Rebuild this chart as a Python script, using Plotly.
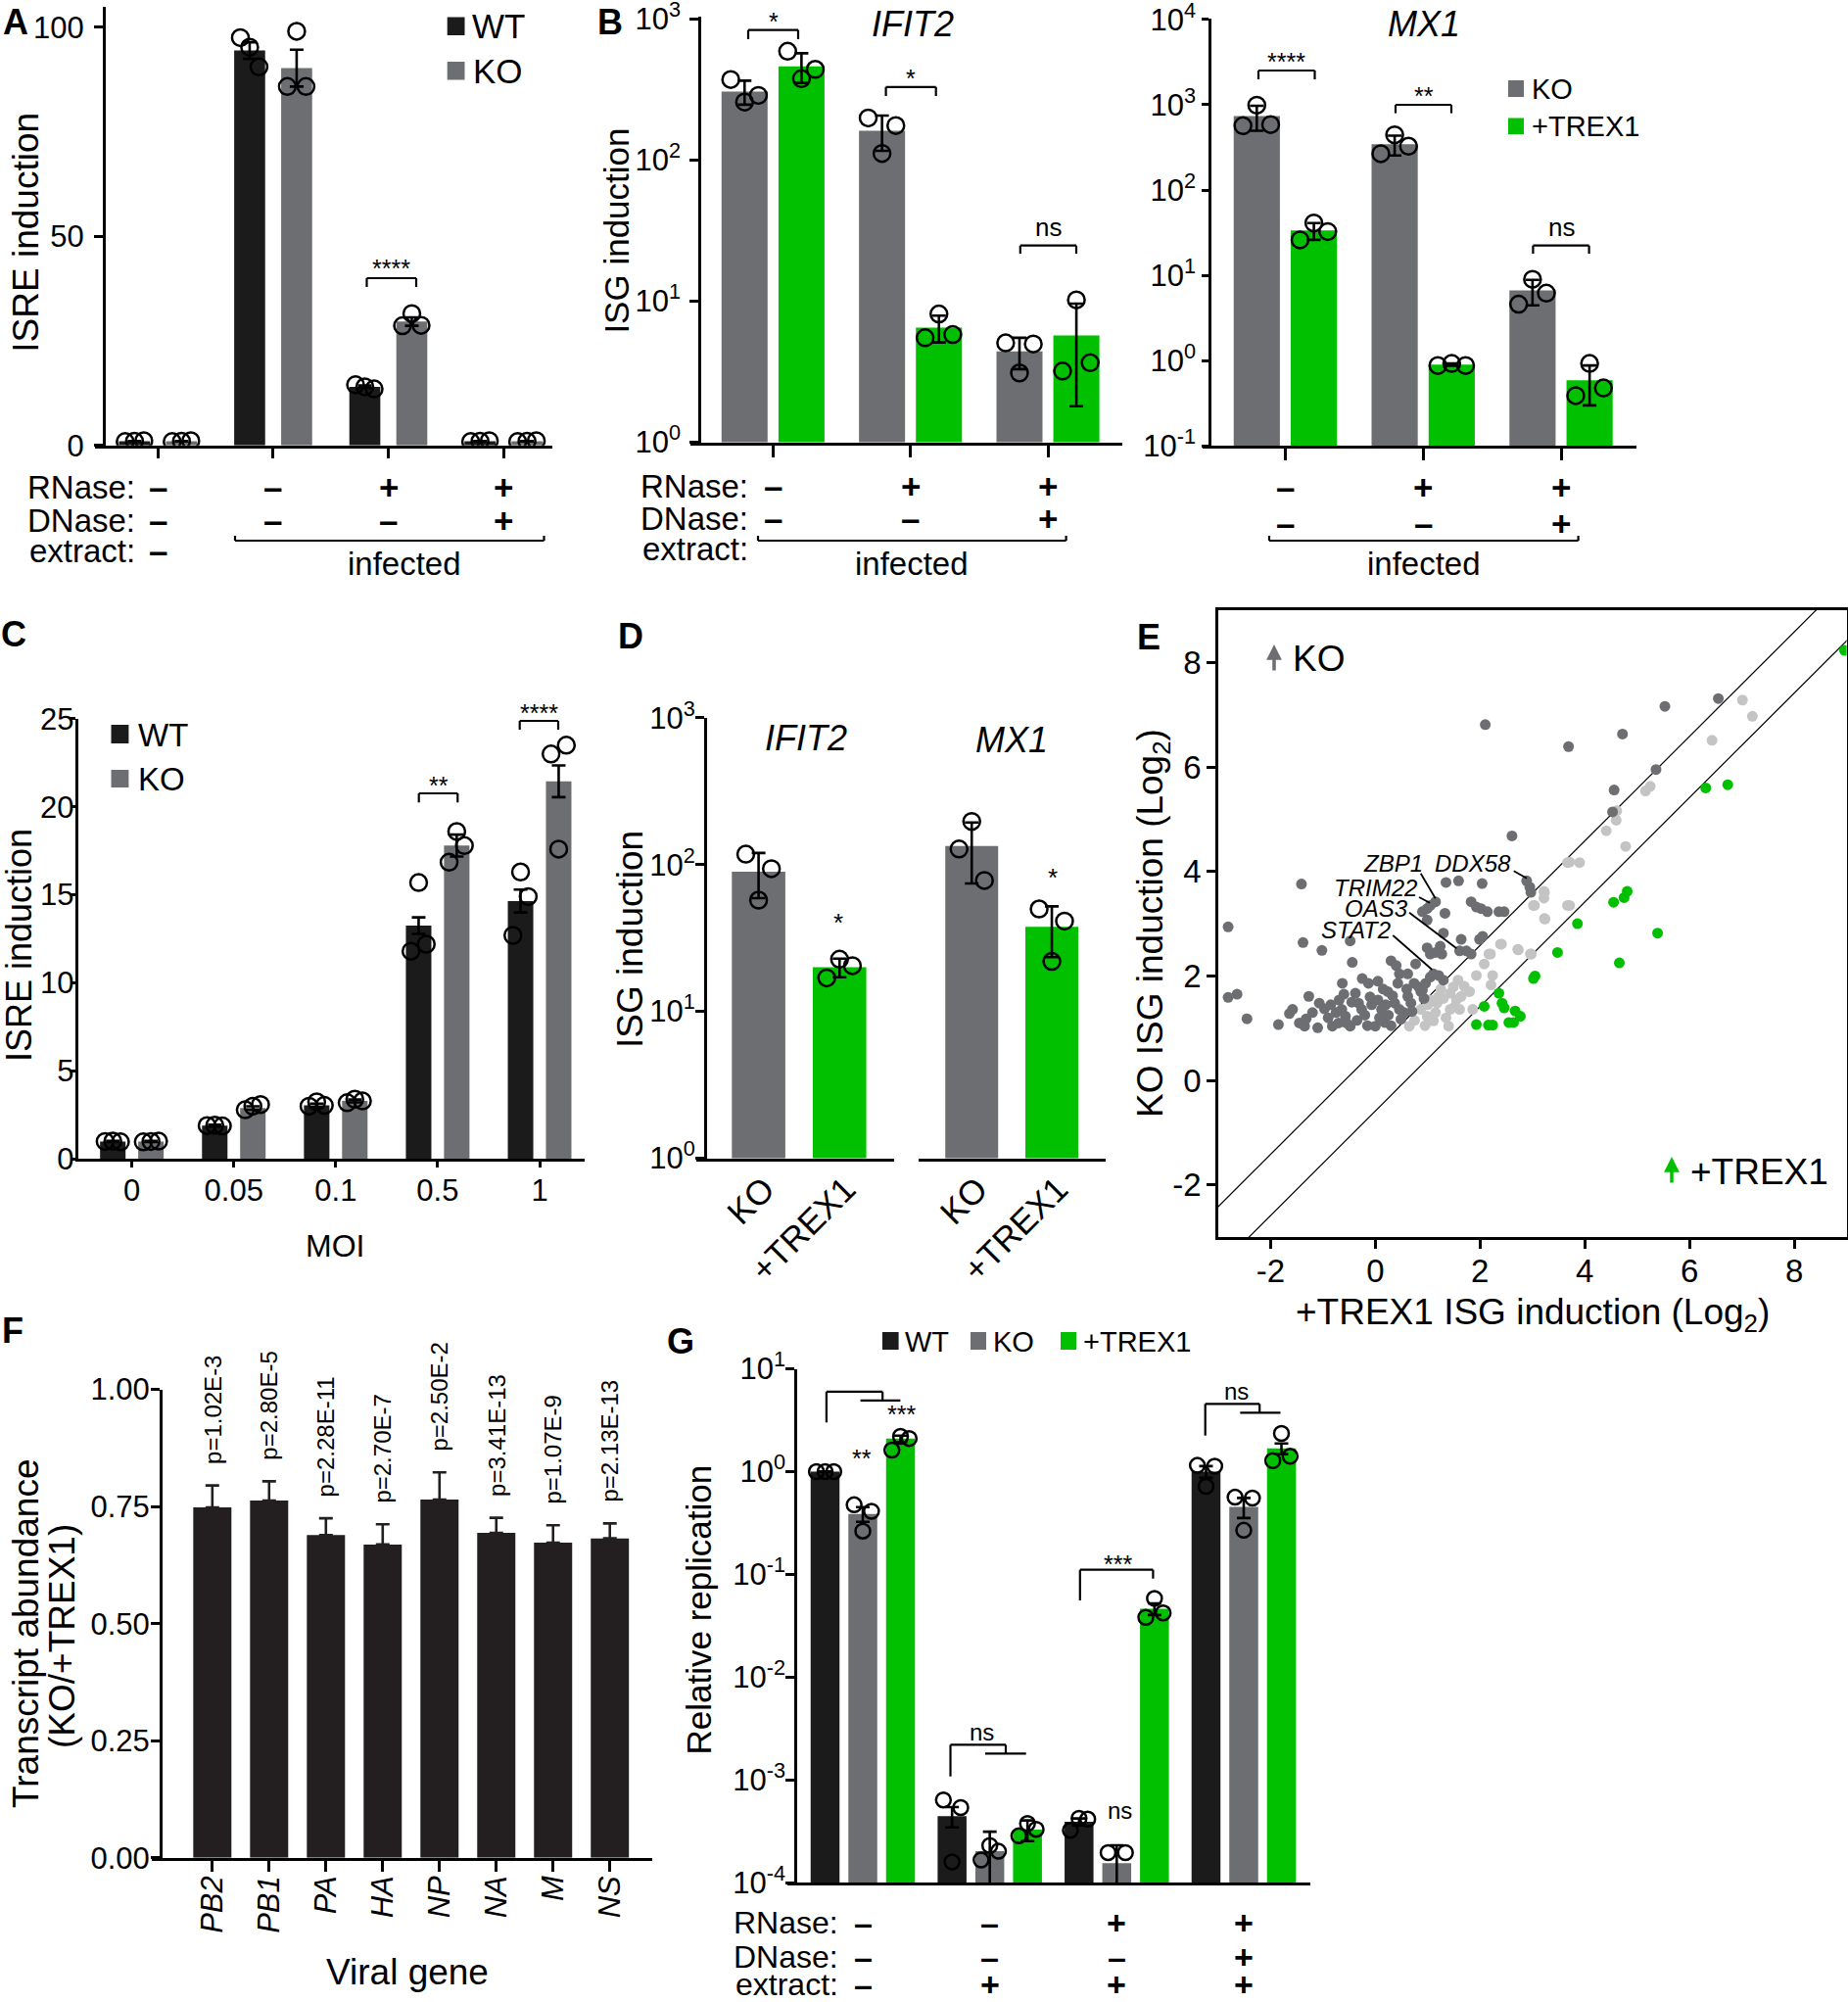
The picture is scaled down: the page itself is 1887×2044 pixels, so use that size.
import numpy as np
import plotly.graph_objects as go

W, H = 1887, 2044
FONT = "Liberation Sans, Arial, sans-serif"
BLK = "#1b1b1b"
GRY = "#6d6e71"
GRN = "#00c000"
LGR = "#c4c4c4"

# ---------------- data ----------------
# Panel A : ISRE induction (WT vs KO)
A_wt_mean = [1.0, 94.4, 14.0, 1.0]
A_ko_mean = [1.0, 90.2, 29.6, 1.0]
A_wt_err = [0.05, 2.0, 0.3, 0.05]
A_ko_err = [0.05, 4.4, 1.0, 0.05]
A_wt_pts = [[0.9, 1.0, 1.1], [97.5, 95.2, 90.5], [14.5, 14.0, 13.5], [0.9, 1.0, 1.1]]
A_ko_pts = [[0.9, 1.0, 1.1], [85.8, 99.0, 85.8], [28.6, 31.5, 28.7], [0.9, 1.0, 1.1]]
A_rnase = ["–", "–", "+", "+"]
A_dnase = ["–", "–", "–", "+"]

# Panel B : IFIT2 (KO vs +TREX1)
B_ko_mean = [305, 161, 4.4]
B_tx_mean = [460, 6.5, 5.7]
B_ko_err = [59, 45, 1.1]
B_tx_err = [109, 1.4, 3.9]
B_ko_pts = [[371, 257, 286], [198, 111, 175], [5.06, 3.1, 4.97]]
B_tx_pts = [[588, 376, 438], [5.5, 8.1, 5.8], [3.2, 10.2, 3.66]]
B_rnase = ["–", "+", "+"]
B_dnase = ["–", "–", "+"]
B_sig = ["*", "*", "ns"]

# Panel B : MX1
M_ko_mean = [735, 344, 6.66]
M_tx_mean = [33.6, 0.90, 0.59]
M_ko_err = [238, 90, 2.2]
M_tx_err = [7.5, 0.03, 0.29]
M_ko_pts = [[568, 989, 586], [267, 444, 327], [4.6, 9.0, 6.2]]
M_tx_pts = [[26.1, 41.1, 32.6], [0.88, 0.93, 0.88], [0.39, 0.93, 0.48]]
M_sig = ["****", "**", "ns"]

# Panel C : ISRE induction vs MOI
C_moi = ["0", "0.05", "0.1", "0.5", "1"]
C_wt_mean = [1.0, 1.9, 3.05, 13.25, 14.65]
C_ko_mean = [1.0, 2.9, 3.3, 17.8, 21.45]
C_wt_err = [0.03, 0.05, 0.1, 0.47, 0.65]
C_ko_err = [0.03, 0.1, 0.08, 0.62, 0.9]
C_wt_pts = [[1.0, 1.02, 0.98], [1.9, 1.92, 1.88], [3.0, 3.25, 3.05], [11.8, 15.7, 12.2], [12.7, 16.3, 14.9]]
C_ko_pts = [[0.98, 1.0, 1.02], [2.8, 3.0, 3.1], [3.2, 3.4, 3.3], [16.85, 18.6, 17.8], [23.0, 17.6, 23.5]]

# Panel D : ISG induction
D_genes = ["IFIT2", "MX1"]
D_lines = ["KO", "+TREX1"]
D_ko_mean = [89.6, 134]
D_tx_mean = [20.0, 37.7]
D_ko_err = [30.5, 59.6]
D_tx_err = [2.9, 14.3]
D_ko_pts = [[117.8, 57.3, 93.8], [127.7, 196.9, 78.0]]
D_tx_pts = [[16.9, 22.7, 20.5], [49.9, 21.9, 41.2]]

# Panel E : scatter of log2 ISG induction (x: +TREX1, y: KO)
E_ko_x = [-2.81, -2.81, -2.64, -2.45, -1.85, -1.64, -1.58, -1.41, -1.38, -1.32, -1.27, -1.35, -1.10, -1.02,
          -1.07, -0.97, -0.82, -0.69, -0.63, -0.64, -0.57, -0.48, -0.44, -0.48, -0.38, -0.32, -0.26, -0.13,
          -0.07, 0.00, 0.05, 0.12, 0.18, 0.24, 0.30, 0.40, 0.46, 0.43, 0.37, 0.46, 0.49, 0.62, 0.62, 0.68,
          0.77, 0.74, 0.83, 0.90, 0.96, 1.05, 1.11, 1.21, 1.30, 0.99, 1.05, 1.15, 1.27, 1.24, 1.30, 1.64,
          1.61, 1.74, 1.83, 1.99, 2.05, 0.90, 0.99, 1.05, 1.15, 0.99, 1.33, 1.35, 1.59, 2.04, 1.83, 1.93,
          2.02, 2.14, 2.36, 2.46, 2.89, 2.95, 2.97, 2.61, 0.87, 0.93, 2.10, 3.69, 4.72, 5.53, 6.55, 5.36,
          4.56, 4.53, -0.90, -0.75, -0.55, -0.35, -0.20, -0.10, 0.08, 0.20, 0.30, 0.55, -0.60, -0.85,
          0.15, -0.45, 0.33, -1.20, 0.70, -0.15, 0.60, -0.25, 0.05, -1.45, 0.25, -0.70]
E_ko_y = [2.94, 1.59, 1.65, 1.18, 1.07, 1.28, 1.36, 3.76, 2.64, 1.18, 1.61, 1.04, 1.01, 2.49,
          1.48, 1.37, 1.04, 1.54, 1.86, 1.36, 1.23, 2.67, 2.26, 1.04, 1.67, 1.48, 1.36, 1.86,
          1.45, 1.04, 1.54, 1.36, 1.11, 1.70, 2.29, 2.20, 2.04, 1.86, 1.48, 1.36, 1.17, 2.04, 1.61, 1.48,
          2.23, 1.86, 1.79, 1.73, 1.86, 1.98, 2.04, 2.01, 1.92, 2.54, 2.42, 2.45, 2.42, 2.57, 2.82, 2.70,
          2.48, 2.48, 2.42, 2.70, 2.76, 3.23, 3.29, 3.35, 3.42, 3.07, 3.20, 3.79, 3.82, 3.77, 3.42, 3.32,
          3.29, 3.23, 3.23, 3.23, 3.82, 3.70, 3.60, 4.68, 1.70, 1.57, 6.81, 6.39, 6.63, 7.16, 7.31, 5.95,
          5.56, 5.14, 1.20, 1.30, 1.10, 1.15, 1.25, 1.60, 1.20, 1.45, 1.05, 1.30, 1.65, 1.45,
          1.75, 1.50, 1.62, 1.30, 1.32, 1.05, 1.75, 1.95, 1.90, 1.10, 1.25, 1.10]
E_ns_x = [0.65, 0.87, 0.99, 1.11, 1.05, 1.18, 1.30, 1.43, 1.49, 1.58, 1.43, 1.52, 1.61, 1.40, 1.64,
          1.86, 1.93, 2.08, 2.17, 2.24, 2.21, 2.39, 2.72, 2.98, 3.02, 3.23, 3.23, 3.67, 3.67, 7.01,
          7.20, 6.43, 5.16, 5.25, 4.61, 4.60, 4.41, 4.78, 3.71, 3.90, 3.22, 3.22, 3.04, 3.71, 3.24,
          2.41, 2.73, 2.20, 2.96, 1.25, 1.70, 1.35, 0.95, 1.55, 1.80, 1.15, 0.75, 1.00, 1.20]
E_ns_y = [1.04, 1.36, 1.23, 1.14, 1.54, 1.48, 1.57, 1.67, 1.79, 1.92, 1.36, 1.42, 1.36, 1.04, 1.61,
          1.36, 2.01, 2.23, 2.42, 2.01, 1.83, 2.61, 2.51, 2.42, 3.35, 3.60, 3.10, 4.17, 3.35, 7.28,
          6.97, 6.51, 5.54, 5.63, 5.16, 4.98, 4.78, 4.48, 4.18, 4.17, 3.62, 3.49, 3.35, 3.35, 3.09,
          2.61, 2.50, 2.42, 2.42, 1.75, 1.80, 1.20, 1.05, 1.55, 1.70, 1.30, 1.15, 1.45, 1.60]
E_tx_x = [3.48, 3.02, 3.05, 2.36, 2.08, 2.42, 2.46, 2.67, 2.77, 1.93, 2.16, 2.24, 2.55, 2.64,
          6.31, 6.73, 8.96, 4.81, 4.75, 4.55, 3.86, 5.39, 4.66]
E_tx_y = [2.45, 1.95, 2.00, 1.67, 1.42, 1.48, 1.39, 1.33, 1.23, 1.07, 1.06, 1.06, 1.11, 1.11,
          5.60, 5.66, 8.23, 3.62, 3.50, 3.41, 3.00, 2.82, 2.25]
E_labels = ["ZBP1", "DDX58", "TRIM22", "OAS3", "STAT2"]
E_ticks = [-2, 0, 2, 4, 6, 8]

# Panel F : viral transcript abundance
F_genes = ["PB2", "PB1", "PA", "HA", "NP", "NA", "M", "NS"]
F_ratio = [0.748, 0.763, 0.689, 0.669, 0.765, 0.694, 0.673, 0.682]
F_err = [0.047, 0.041, 0.036, 0.043, 0.058, 0.032, 0.037, 0.032]
F_p = ["p=1.02E-3", "p=2.80E-5", "p=2.28E-11", "p=2.70E-7", "p=2.50E-2", "p=3.41E-13", "p=1.07E-9", "p=2.13E-13"]

# Panel G : relative replication
G_wt_mean = [1.0, 4.47e-4, 3.93e-4, 1.0]
G_ko_mean = [0.388, 2.03e-4, 1.56e-4, 0.454]
G_tx_mean = [2.09, 3.3e-4, 0.0463, 1.68]
G_wt_err = [0.005, 1.0e-4, 0.3e-4, 0.13]
G_ko_err = [0.063, 1.12e-4, 0.76e-4, 0.10]
G_tx_err = [0.15, 0.75e-4, 0.006, 0.20]
G_wt_pts = [[1.0, 1.0, 1.0], [6.4e-4, 1.6e-4, 5.4e-4], [3.24e-4, 4.25e-4, 4.17e-4], [1.15, 0.72, 1.13]]
G_ko_pts = [[0.476, 0.264, 0.411], [1.67e-4, 2.31e-4, 2.03e-4], [1.97e-4, 0.74e-4, 1.97e-4], [0.564, 0.269, 0.553]]
G_tx_pts = [[1.62, 2.2, 2.1], [2.87e-4, 3.78e-4, 3.32e-4], [0.0383, 0.0585, 0.0422], [1.28, 2.35, 1.41]]
G_rnase = ["–", "–", "+", "+"]
G_dnase = ["–", "–", "–", "+"]
G_extract = ["–", "+", "+", "+"]

# ---------------- helpers ----------------
fig = go.Figure()
ann, shp, lay = [], [], {}


def fx(x):
    return x / W


def fy(y):
    return 1 - y / H


def T(x, y, s, size, xa="center", ya="middle", angle=0, bold=False, italic=False, color="black"):
    if bold:
        s = "<b>" + s + "</b>"
    if italic:
        s = "<i>" + s + "</i>"
    ann.append(dict(x=fx(x), y=fy(y), xref="paper", yref="paper", text=s, showarrow=False,
                    xanchor=xa, yanchor=ya, textangle=angle,
                    font=dict(family=FONT, size=size, color=color)))


def TA(xref, x, y, s, size, bold=True):
    if bold:
        s = "<b>" + s + "</b>"
    ann.append(dict(x=x, y=fy(y), xref=xref, yref="paper", text=s, showarrow=False,
                    xanchor="center", yanchor="middle", font=dict(family=FONT, size=size, color="black")))


def L(x0, y0, x1, y1, w=2.2, color="black"):
    shp.append(dict(type="line", xref="paper", yref="paper", x0=fx(x0), y0=fy(y0), x1=fx(x1), y1=fy(y1),
                    line=dict(color=color, width=w)))


def R(x0, y0, x1, y1, color):
    shp.append(dict(type="rect", xref="paper", yref="paper", x0=fx(x0), y0=fy(y0), x1=fx(x1), y1=fy(y1),
                    line=dict(width=0), fillcolor=color))


def bracket(x0, x1, y, yleg, w=2.2):
    L(x0, yleg, x0, y, w)
    L(x0, y, x1, y, w)
    L(x1, y, x1, yleg, w)


def base_axis(**kw):
    d = dict(showline=True, linecolor="black", linewidth=3, ticks="outside", ticklen=9, tickwidth=3,
             tickcolor="black", showgrid=False, zeroline=False, ticklabelstandoff=0, ticklabeloverflow="allow",
             tickfont=dict(family=FONT, size=31, color="black"))
    d.update(kw)
    return d


def set_x(n, x0, x1, rng, anchor, **kw):
    lay["xaxis" + ("" if n == 1 else str(n))] = base_axis(domain=[fx(x0), fx(x1)], range=rng, anchor=anchor, **kw)


def set_y(n, ytop, ybot, rng, anchor, **kw):
    lay["yaxis" + ("" if n == 1 else str(n))] = base_axis(domain=[fy(ybot), fy(ytop)], range=rng, anchor=anchor, **kw)


def add_bars(xa, ya, pos, vals, err, color, width):
    fig.add_trace(go.Bar(x=pos, y=vals, width=width, marker=dict(color=color, line=dict(width=0)),
                         error_y=dict(type="data", array=err, visible=True, color="black", thickness=2.6, width=7),
                         xaxis=xa, yaxis=ya, showlegend=False, hoverinfo="skip"))


JIT = [-0.3, 0.0, 0.3]


def add_dots(xa, ya, pos, pts, bw, size=17, lw=2.5):
    xs, ys = [], []
    for p, vals in zip(pos, pts):
        for j, v in zip(JIT, vals):
            xs.append(p + j * bw)
            ys.append(v)
    fig.add_trace(go.Scatter(x=xs, y=ys, mode="markers",
                             marker=dict(symbol="circle-open", size=size, color="black", line=dict(width=lw)),
                             xaxis=xa, yaxis=ya, showlegend=False, hoverinfo="skip"))


def sup(e):
    return "10<sup>%d</sup>" % e


def letter(x, s):
    ann.append(dict(x=fx(x), y=1.0, xref="paper", yref="paper", text="<b>" + s + "</b>", showarrow=False,
                    xanchor="center", yanchor="top", font=dict(family=FONT, size=36, color="black")))


# ---------------- Panel A ----------------
nA = len(A_wt_mean)
offA, bwA = 0.204, 0.269
gA = list(range(nA))
set_x(1, 97, 563.5, [-0.547, 3.42], "y", tickvals=gA, showticklabels=False, ticklen=10)
set_y(1, 7, 454.7, [0, 104.85], "free", position=fx(106), tickvals=[0, 50, 100], ticklen=9, ticklabelstandoff=4)
add_bars("x", "y", [g - offA for g in gA], A_wt_mean, A_wt_err, BLK, bwA)
add_bars("x", "y", [g + offA for g in gA], A_ko_mean, A_ko_err, GRY, bwA)
add_dots("x", "y", [g - offA for g in gA], A_wt_pts, bwA)
add_dots("x", "y", [g + offA for g in gA], A_ko_pts, bwA)
letter(16, "A")
T(25.7, 237, "ISRE induction", 37, angle=-90)
R(456.7, 17.5, 474.5, 36, BLK)
T(480, 27, "WT", 35, xa="left")
R(456.7, 63, 474.5, 81.5, GRY)
T(481, 73, "KO", 35, xa="left")
bracket(374.5, 425, 284, 293)
T(399.4, 274, "****", 25)
T(140, 497.5, "RNase:", 33, xa="right")
T(140, 532, "DNase:", 33, xa="right")
T(140, 562.6, "extract:", 33, xa="right")
for g in gA:
    TA("x", g, 497.5, A_rnase[g], 35)
    TA("x", g, 532, A_dnase[g], 35)
TA("x", 0, 562.6, "–", 35)
L(240, 547, 240, 552)
L(240, 552, 555.5, 552)
L(555.5, 552, 555.5, 547)
T(413, 575, "infected", 33)

# ---------------- Panel B (IFIT2) ----------------
nB = len(B_ko_mean)
gB = list(range(nB))
offB, bwB = 0.207, 0.335
set_x(2, 705.4, 1146.4, [-0.598, 2.544], "y2", tickvals=gB, showticklabels=False, ticklen=12)
set_y(2, 17.2, 451.6, [0, 3.013], "free", type="log", position=fx(714.3),
      tickvals=[1, 10, 100, 1000], ticktext=[sup(e) for e in range(4)], ticklen=9, ticklabelstandoff=3)
add_bars("x2", "y2", [g - offB for g in gB], B_ko_mean, B_ko_err, GRY, bwB)
add_bars("x2", "y2", [g + offB for g in gB], B_tx_mean, B_tx_err, GRN, bwB)
add_dots("x2", "y2", [g - offB for g in gB], B_ko_pts, bwB)
add_dots("x2", "y2", [g + offB for g in gB], B_tx_pts, bwB)
letter(623, "B")
T(628.6, 236, "ISG induction", 35, angle=-90)
T(932, 25, "IFIT2", 36, italic=True)
bracket(764, 815, 30.6, 40)
T(789.5, 22, B_sig[0], 25)
bracket(904.6, 955.7, 88.8, 98)
T(930, 80, B_sig[1], 25)
bracket(1041.8, 1099, 250.7, 259)
T(1070.4, 232, B_sig[2], 26)
T(766, 496, "RNase:", 33, xa="right")
T(766, 530, "DNase:", 33, xa="right")
T(766, 561, "extract:", 33, xa="right")
for g in gB:
    TA("x2", g, 496, B_rnase[g], 35)
    TA("x2", g, 530, B_dnase[g], 35)
L(774, 547, 774, 552)
L(774, 552, 1088.6, 552)
L(1088.6, 552, 1088.6, 547)
T(931.4, 575, "infected", 33)

# ---------------- Panel B (MX1) ----------------
set_x(3, 1228, 1671, [-0.600, 2.547], "y3", tickvals=gB, showticklabels=False, ticklen=12)
set_y(3, 19.0, 455.4, [-1, 4.01], "free", type="log", position=fx(1235.3),
      tickvals=[0.1, 1, 10, 100, 1000, 10000], ticktext=[sup(e) for e in range(-1, 5)], ticklen=7,
      ticklabelstandoff=0)
add_bars("x3", "y3", [g - offB for g in gB], M_ko_mean, M_ko_err, GRY, bwB)
add_bars("x3", "y3", [g + offB for g in gB], M_tx_mean, M_tx_err, GRN, bwB)
add_dots("x3", "y3", [g - offB for g in gB], M_ko_pts, bwB)
add_dots("x3", "y3", [g + offB for g in gB], M_tx_pts, bwB)
T(1454.4, 25, "MX1", 36, italic=True)
bracket(1285, 1342.5, 72, 81)
T(1313.7, 63, M_sig[0], 25)
bracket(1425, 1482, 107, 115.6)
T(1453.5, 98, M_sig[1], 25)
bracket(1565.4, 1622.6, 250.7, 259)
T(1594, 232, M_sig[2], 26)
R(1540, 82, 1556, 99, GRY)
T(1561.6, 91, "KO", 29, xa="left")
R(1540, 120.5, 1556, 137, GRN)
T(1561.6, 129, "+TREX1", 29, xa="left")
for g in gB:
    TA("x3", g, 497.5, B_rnase[g], 35)
    TA("x3", g, 534, B_dnase[g], 35)
L(1296, 547, 1296, 552)
L(1296, 552, 1611.6, 552)
L(1611.6, 552, 1611.6, 547)
T(1453.5, 575, "infected", 33)

# ---------------- Panel C ----------------
nC = len(C_moi)
gC = list(range(nC))
offC, bwC = 0.187, 0.25
set_x(4, 79.6, 596.7, [-0.529, 4.439], "y4", tickvals=gC, ticktext=C_moi, ticklen=6, ticklabelstandoff=-4)
set_y(4, 733.8, 1183.4, [0, 25], "x4", tickvals=[0, 5, 10, 15, 20, 25], ticklen=5, ticklabelstandoff=-10)
add_bars("x4", "y4", [g - offC for g in gC], C_wt_mean, C_wt_err, BLK, bwC)
add_bars("x4", "y4", [g + offC for g in gC], C_ko_mean, C_ko_err, GRY, bwC)
add_dots("x4", "y4", [g - offC for g in gC], C_wt_pts, bwC)
add_dots("x4", "y4", [g + offC for g in gC], C_ko_pts, bwC)
T(14, 647, "C", 36, bold=True)
T(19, 965, "ISRE induction", 36, angle=-90)
T(342, 1272, "MOI", 32)
R(113.5, 740, 131.4, 759, BLK)
T(139, 750, "WT", 33, xa="left")
R(113.5, 786, 131.4, 804, GRY)
T(139, 795, "KO", 33, xa="left")
bracket(427.7, 467.3, 810, 819.3)
T(447.5, 802, "**", 25)
bracket(530.7, 570, 736, 745)
T(550.4, 728, "****", 25)

# ---------------- Panel D ----------------
bwD = 0.66
set_x(5, 711, 912.7, [-0.769, 1.67], "y5", tickvals=[0, 1], ticktext=D_lines, ticks="", tickangle=-45,
      ticklabelstandoff=-6, ticklabelshift=6, tickfont=dict(family=FONT, size=35, color="black"))
set_x(6, 937.5, 1129, [-0.669, 1.672], "y5", tickvals=[0, 1], ticktext=D_lines, ticks="", tickangle=-45,
      ticklabelstandoff=-6, ticklabelshift=6, tickfont=dict(family=FONT, size=35, color="black"))
set_y(5, 732.9, 1182.5, [0, 3], "free", type="log", position=fx(719.9),
      tickvals=[1, 10, 100, 1000], ticktext=[sup(e) for e in range(4)], ticklen=9, ticklabelstandoff=-6)
for i, xa in enumerate(["x5", "x6"]):
    add_bars(xa, "y5", [0, 1], [D_ko_mean[i], D_tx_mean[i]], [D_ko_err[i], D_tx_err[i]], [GRY, GRN], bwD)
    add_dots(xa, "y5", [0, 1], [D_ko_pts[i], D_tx_pts[i]], bwD * 0.8)
T(644, 649, "D", 36, bold=True)
T(643, 959, "ISG induction", 37, angle=-90)
T(822.5, 754, D_genes[0], 36, italic=True)
T(1033, 756, D_genes[1], 36, italic=True)
T(856, 942, "*", 26)
T(1074.5, 896, "*", 26)

# ---------------- Panel E ----------------
E_tt = [str(v) for v in E_ticks]
set_x(7, 1243.9, 1885.6, [-3, 9], "y7", tickvals=E_ticks, ticktext=E_tt, mirror=True, linewidth=2.5, ticklen=9,
      ticklabelstandoff=-6, tickfont=dict(family=FONT, size=33, color="black"))
set_y(7, 623, 1263.2, [-3, 9], "x7", tickvals=E_ticks, ticktext=E_tt, mirror=True, linewidth=2.5, ticklen=9,
      ticklabelstandoff=-1, tickfont=dict(family=FONT, size=33, color="black"))
E_fc = np.log2(1.5)
E_line_x = np.array([-4.0, 10.0])
for d in (E_fc, -E_fc):
    fig.add_trace(go.Scatter(x=E_line_x, y=E_line_x + d, mode="lines", line=dict(color="black", width=1.2),
                             xaxis="x7", yaxis="y7", showlegend=False, hoverinfo="skip"))
for xs, ys, c in ((E_ns_x, E_ns_y, LGR), (E_ko_x, E_ko_y, GRY), (E_tx_x, E_tx_y, GRN)):
    fig.add_trace(go.Scatter(x=xs, y=ys, mode="markers", marker=dict(color=c, size=11, line=dict(width=0)),
                             xaxis="x7", yaxis="y7", showlegend=False, hoverinfo="skip"))
T(1173, 650, "E", 36, bold=True)
T(1177, 943, "KO ISG induction (Log<sub>2</sub>)", 37, angle=-90)
T(1565, 1342, "+TREX1 ISG induction (Log<sub>2</sub>)", 37)
ann.append(dict(x=fx(1301), y=fy(658), xref="paper", yref="paper", ax=0, ay=28, axref="pixel", ayref="pixel",
                text="", showarrow=True, arrowhead=2, arrowsize=0.9, arrowwidth=3.5, arrowcolor=GRY))
T(1318, 673, "KO", 37, xa="left")
ann.append(dict(x=fx(1707), y=fy(1181), xref="paper", yref="paper", ax=0, ay=28, axref="pixel", ayref="pixel",
                text="", showarrow=True, arrowhead=2, arrowsize=0.9, arrowwidth=3.5, arrowcolor=GRN))
T(1724, 1196, "+TREX1", 37, xa="left")
lab_pos = [(1422.3, 881.7), (1504.4, 881.7), (1404.8, 906.7), (1405.7, 927.3), (1384.5, 949)]
lead = [(1450.7, 891.7, 1465.7, 917.3), (1545.7, 889.3, 1559, 896.7), (1449, 916, 1460, 921.7),
        (1439, 931.7, 1487.3, 968.3), (1422.3, 955, 1462.3, 990)]
for name, (lx, ly), seg in zip(E_labels, lab_pos, lead):
    T(lx, ly, name, 24, italic=True)
    L(*seg, w=1.8)

# ---------------- Panel F ----------------
nF = len(F_genes)
gF = list(range(nF))
set_x(8, 155, 665.7, [-1.066, 7.741], "y8", tickvals=gF, ticktext=["<i>%s</i>" % g for g in F_genes],
      tickangle=-90, ticklen=11, ticklabelstandoff=-8)
set_y(8, 1418.6, 1896.8, [0, 1], "free", position=fx(164), tickvals=[0, 0.25, 0.5, 0.75, 1.0],
      tickformat=".2f", ticklen=9, ticklabelstandoff=-5)
fig.add_trace(go.Bar(x=gF, y=F_ratio, width=0.672, marker=dict(color="#231f20", line=dict(width=0)),
                     error_y=dict(type="data", array=F_err, arrayminus=[0] * nF, symmetric=False, visible=True,
                                  color="#231f20", thickness=2.6, width=7),
                     xaxis="x8", yaxis="y8", showlegend=False, hoverinfo="skip"))
for i in gF:
    ann.append(dict(x=i, y=F_ratio[i] + F_err[i], xref="x8", yref="y8", text=F_p[i], showarrow=False,
                    textangle=-90, xanchor="center", yanchor="bottom", yshift=20,
                    font=dict(family=FONT, size=24, color="black")))
T(13, 1358, "F", 36, bold=True)
T(26, 1668, "Transcript abundance", 37, angle=-90)
T(63, 1671, "(KO/+TREX1)", 37, angle=-90)
T(416, 2013, "Viral gene", 37)

# ---------------- Panel G ----------------
nG = len(G_wt_mean)
gG = list(range(nG))
offG, bwG = 0.297, 0.2275
set_x(9, 803.6, 1337.8, [-0.597, 3.523], "y9", tickvals=gG, showticklabels=False, ticks="")
set_y(9, 1397.5, 1922.4, [-4, 1], "free", type="log", position=fx(812.3),
      tickvals=[1e-4, 1e-3, 1e-2, 1e-1, 1, 10], ticktext=[sup(e) for e in range(-4, 2)], ticklen=9,
      ticklabelstandoff=-6)
add_bars("x9", "y9", [g - offG for g in gG], G_wt_mean, G_wt_err, BLK, bwG)
add_bars("x9", "y9", gG, G_ko_mean, G_ko_err, GRY, bwG)
add_bars("x9", "y9", [g + offG for g in gG], G_tx_mean, G_tx_err, GRN, bwG)
add_dots("x9", "y9", [g - offG for g in gG], G_wt_pts, bwG, size=15)
add_dots("x9", "y9", gG, G_ko_pts, bwG, size=15)
add_dots("x9", "y9", [g + offG for g in gG], G_tx_pts, bwG, size=15)
T(694.5, 1369, "G", 36, bold=True)
T(712.5, 1644, "Relative replication", 35, angle=-90)
R(901, 1360, 917.6, 1378, BLK)
T(922, 1370, "WT", 29, xa="left")
R(991, 1360, 1007, 1378, GRY)
T(1012, 1370, "KO", 29, xa="left")
R(1083, 1360, 1099, 1378, GRN)
T(1104, 1370, "+TREX1", 29, xa="left")
L(843.9, 1452.3, 843.9, 1420.8); L(843.9, 1420.8, 901.2, 1420.8); L(901.2, 1420.8, 901.2, 1429.8)
L(878.6, 1429.8, 919.4, 1429.8)
T(920.7, 1444, "***", 25)
T(880.3, 1489, "**", 25)
L(970.5, 1813.7, 970.5, 1781.4); L(970.5, 1781.4, 1027, 1781.4); L(1027, 1781.4, 1027, 1790.4)
L(1006, 1790.4, 1047.7, 1790.4)
T(1002, 1768, "ns", 24)
L(1102.8, 1634, 1102.8, 1602.7); L(1102.8, 1602.7, 1177.4, 1602.7); L(1177.4, 1602.7, 1177.4, 1611.7)
T(1141.8, 1597, "***", 25)
T(1143, 1848, "ns", 24)
L(1230.7, 1465.7, 1230.7, 1433.4); L(1230.7, 1433.4, 1286.2, 1433.4); L(1286.2, 1433.4, 1286.2, 1442.4)
L(1266.3, 1442.4, 1307.5, 1442.4)
T(1262.4, 1420, "ns", 24)
T(857.8, 1963, "RNase:", 32, xa="right")
T(857.8, 1998, "DNase:", 32, xa="right")
T(857.8, 2026, "extract:", 32, xa="right")
for g in gG:
    TA("x9", g, 1963, G_rnase[g], 34)
    TA("x9", g, 1998, G_dnase[g], 34)
    TA("x9", g, 2026, G_extract[g], 34)

fig.update_layout(width=W, height=H, margin=dict(l=0, r=0, t=0, b=0, autoexpand=False), paper_bgcolor="white",
                  plot_bgcolor="rgba(0,0,0,0)", barmode="overlay", showlegend=False,
                  font=dict(family=FONT, color="black"), annotations=ann, shapes=shp, **lay)

PIN = ("document.documentElement.style.margin='0';document.body.style.margin='0';"
       "document.body.style.padding='0';document.body.style.overflow='hidden';"
       "var gd=document.getElementById('{plot_id}');gd.style.position='absolute';"
       "gd.style.left='0px';gd.style.top='0px';")
fig.write_html("out.html", post_script=PIN, config={"displayModeBar": False})
